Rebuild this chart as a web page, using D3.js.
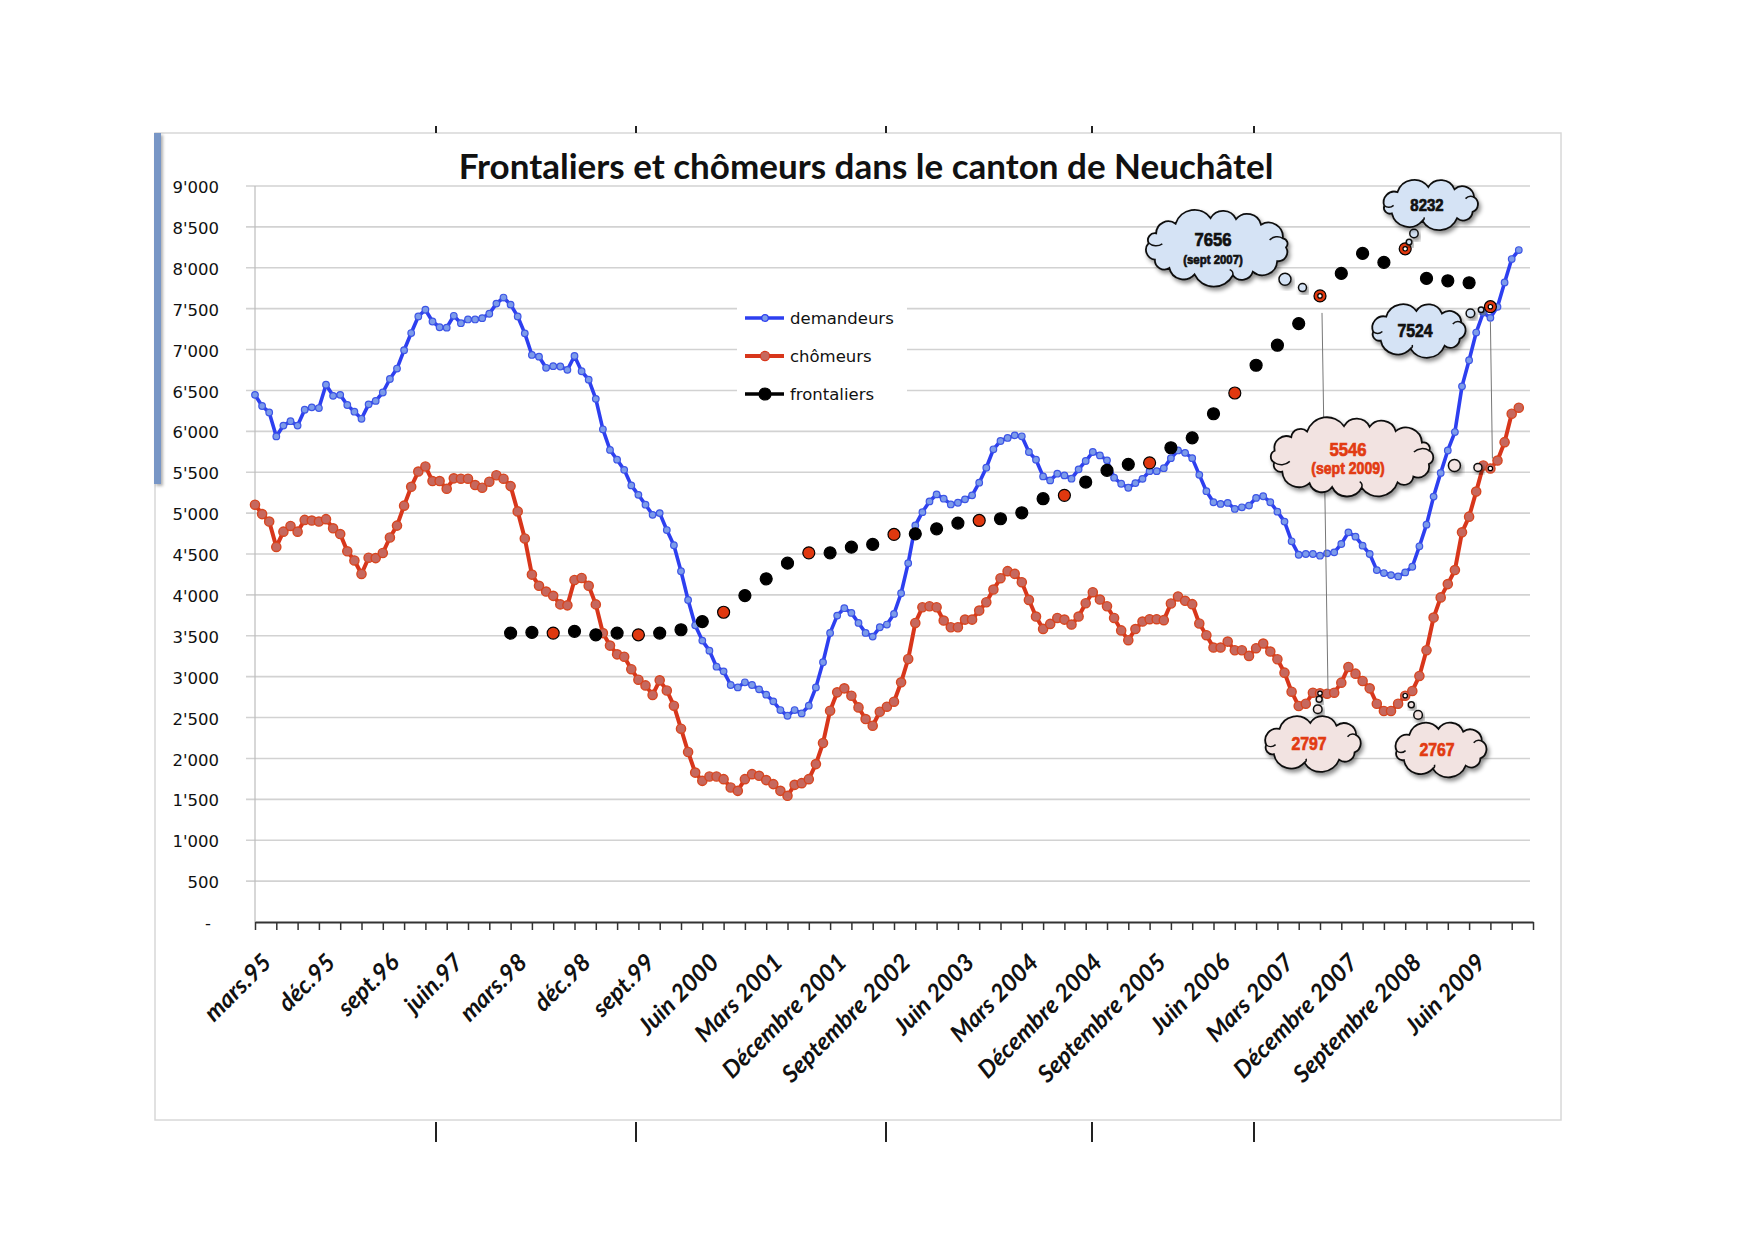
<!DOCTYPE html>
<html>
<head>
<meta charset="utf-8">
<script src="https://cdnjs.cloudflare.com/ajax/libs/d3/7.8.5/d3.min.js"></script>
<style>
  body { margin: 0; background: #fff; }
  svg { display: block; }
</style>
</head>
<body>
<script>
// monthly series, from mars 1995 (index 0) to janvier 2010 (index 178)
var demandeurs = [
  6446, 6310, 6231, 5938, 6070, 6124, 6070, 6264, 6293, 6285,
  6570, 6434, 6446, 6322, 6240, 6153, 6330, 6372, 6475, 6640,
  6768, 6992, 7202, 7405, 7487, 7343, 7273, 7268, 7413, 7322,
  7368, 7368, 7384, 7438, 7562, 7636, 7549, 7405, 7198, 6934,
  6913, 6777, 6797, 6793, 6752, 6921, 6735, 6632, 6397, 6025,
  5773, 5653, 5529, 5339, 5223, 5103, 4979, 5000, 4793, 4607,
  4289, 3938, 3628, 3441, 3318, 3122, 3065, 2898, 2869, 2931,
  2898, 2845, 2780, 2698, 2592, 2522, 2592, 2551, 2645, 2869,
  3176, 3535, 3747, 3837, 3780, 3657, 3535, 3490, 3604, 3637,
  3767, 4020, 4388, 4849, 5012, 5143, 5229, 5176, 5106, 5127,
  5168, 5217, 5372, 5555, 5780, 5882, 5919, 5951, 5939, 5747,
  5653, 5449, 5400, 5482, 5461, 5421, 5535, 5637, 5747, 5706,
  5645, 5433, 5359, 5310, 5367, 5419, 5513, 5513, 5549, 5672,
  5766, 5737, 5672, 5468, 5268, 5133, 5112, 5125, 5051, 5071,
  5092, 5186, 5206, 5133, 5018, 4896, 4655, 4491, 4500, 4500,
  4479, 4508, 4520, 4622, 4765, 4712, 4602, 4500, 4303, 4267,
  4242, 4226, 4275, 4344, 4594, 4859, 5202, 5492, 5766, 5991,
  6550, 6869, 7208, 7453, 7388, 7522, 7821, 8107, 8217
];

var chomeurs = [
  5103, 4988, 4897, 4587, 4773, 4843, 4773, 4917, 4909, 4897,
  4926, 4814, 4744, 4533, 4421, 4256, 4455, 4450, 4512, 4702,
  4847, 5091, 5322, 5508, 5570, 5392, 5392, 5297, 5425, 5421,
  5421, 5343, 5310, 5384, 5463, 5421, 5330, 5021, 4690, 4248,
  4111, 4041, 3988, 3884, 3872, 4182, 4207, 4111, 3884, 3533,
  3380, 3273, 3244, 3091, 2963, 2893, 2777, 2955, 2831, 2645,
  2364, 2079, 1827, 1726, 1779, 1779, 1747, 1645, 1604, 1747,
  1808, 1788, 1735, 1686, 1604, 1543, 1677, 1698, 1747, 1931,
  2188, 2584, 2808, 2857, 2767, 2624, 2482, 2400, 2571, 2633,
  2694, 2931, 3216, 3657, 3849, 3861, 3849, 3686, 3604, 3604,
  3698, 3698, 3808, 3910, 4065, 4204, 4290, 4257, 4155, 3939,
  3735, 3584, 3645, 3718, 3698, 3637, 3735, 3898, 4033, 3943,
  3861, 3718, 3566, 3446, 3582, 3674, 3703, 3703, 3691, 3895,
  3981, 3928, 3887, 3650, 3507, 3356, 3356, 3429, 3323, 3323,
  3254, 3348, 3405, 3307, 3213, 3049, 2816, 2641, 2669, 2804,
  2797, 2792, 2804, 2927, 3119, 3037, 2947, 2857, 2669, 2580,
  2580, 2669, 2767, 2825, 3009, 3323, 3723, 3969, 4132, 4304,
  4765, 4957, 5263, 5582, 5546, 5643, 5868, 6215, 6289
];

// quarterly, from mars 1998 (month index 36), every 3 months
var frontaliersStart = 36;
var frontaliers = [
  3533, 3541, 3533, 3554, 3512, 3533, 3512, 3533, 3574, 3674,
  3788, 3992, 4196, 4388, 4514, 4514, 4584, 4617, 4739, 4747,
  4808, 4878, 4910, 4931, 5004, 5176, 5217, 5380, 5523, 5596,
  5615, 5799, 5921, 6215, 6469, 6808, 7053, 7318, 7656, 7931,
  8176, 8066, 8232, 7870, 7841, 7817, 7524
];

var tickLabels = ["mars.95", "déc.95", "sept.96", "juin.97", "mars.98", "déc.98",
  "sept.99", "Juin 2000", "Mars 2001", "Décembre 2001", "Septembre 2002",
  "Juin 2003", "Mars 2004", "Décembre 2004", "Septembre 2005", "Juin 2006",
  "Mars 2007", "Décembre 2007", "Septembre 2008", "Juin 2009"];

var yTicks = d3.range(0, 9001, 500);
var seriesNames = ["demandeurs", "chômeurs", "frontaliers"];

var W = 1755, H = 1240;
var svg = d3.select('body').append('svg')
            .attr('width', W)
            .attr('height', H);

var defs = svg.append('defs');
var sh = defs.append('filter').attr('id', 'shadow')
  .attr('x', '-20%').attr('y', '-20%').attr('width', '150%').attr('height', '160%');
sh.append('feDropShadow').attr('dx', 2).attr('dy', 3).attr('stdDeviation', 2.2)
  .attr('flood-color', '#000').attr('flood-opacity', 0.45);
var sh2 = defs.append('filter').attr('id', 'barshadow')
  .attr('x', '-100%').attr('y', '-5%').attr('width', '300%').attr('height', '110%');
sh2.append('feDropShadow').attr('dx', 2).attr('dy', 2).attr('stdDeviation', 1.5)
  .attr('flood-color', '#000').attr('flood-opacity', 0.3);

// frame of the chart
svg.append('rect')
   .attr('x', 155).attr('y', 133).attr('width', 1406).attr('height', 987)
   .attr('fill', '#fff').attr('stroke', '#d8d8d8').attr('stroke-width', 1.5);

// little marks above / below the frame (page guides)
[436, 636, 886, 1092, 1254].forEach(function (gx) {
  svg.append('line').attr('x1', gx).attr('x2', gx).attr('y1', 126).attr('y2', 133)
     .attr('stroke', '#222').attr('stroke-width', 2);
  svg.append('line').attr('x1', gx).attr('x2', gx).attr('y1', 1122).attr('y2', 1142)
     .attr('stroke', '#222').attr('stroke-width', 2);
});

// blue bar on the left edge
svg.append('rect')
   .attr('x', 154).attr('y', 133).attr('width', 7).attr('height', 351)
   .attr('fill', '#7896c6').attr('filter', 'url(#barshadow)');

var x = d3.scaleLinear().domain([0, 180]).range([255, 1533]);
var y = d3.scaleLinear().domain([0, 9000]).range([922, 186]);

// gridlines
svg.append('g').selectAll('line')
   .data(yTicks.filter(function (d) { return d > 0; }))
   .enter().append('line')
   .attr('x1', 246).attr('x2', 1530)
   .attr('y1', function (d) { return y(d); })
   .attr('y2', function (d) { return y(d); })
   .attr('stroke', '#d2d2d2').attr('stroke-width', 1.6);

// y axis line
svg.append('line').attr('x1', x(0)).attr('x2', x(0)).attr('y1', y(9000)).attr('y2', y(0))
   .attr('stroke', '#bdbdbd').attr('stroke-width', 1.2);

var loc = d3.formatLocale({ decimal: '.', thousands: "'", grouping: [3], currency: ['', ''] });
var fmt = loc.format(',');

var yAxis = svg.append('g')
  .attr('transform', 'translate(219,0)')
  .call(d3.axisLeft(y).tickValues(yTicks).tickSize(0).tickPadding(0)
    .tickFormat(function (d) { return d === 0 ? '-' : fmt(d); }));
yAxis.select('.domain').remove();
yAxis.selectAll('text')
  .attr('dy', '0.4em')
  .style('font-family', 'DejaVu Sans, sans-serif')
  .style('font-size', '16.5px')
  .attr('fill', '#111');
yAxis.selectAll('text').filter(function (d) { return d === 0; }).attr('dx', -8);

// x axis
var xAxis = svg.append('g')
  .attr('transform', 'translate(0,' + y(0) + ')')
  .call(d3.axisBottom(x).tickValues(d3.range(0, 181, 3)).tickSize(8).tickSizeOuter(0).tickFormat(''));
xAxis.select('.domain').attr('stroke', '#333').attr('stroke-width', 2.2);
xAxis.selectAll('.tick line').attr('stroke', '#333').attr('stroke-width', 1.5);

svg.append('g').selectAll('text')
   .data(tickLabels)
   .enter().append('text')
   .attr('transform', function (d, k) {
     return 'translate(' + (x(k * 9) + 12) + ',958) rotate(-45)';
   })
   .attr('text-anchor', 'end')
   .attr('dy', '0.35em')
   .style('font-family', 'Lato, sans-serif')
   .style('font-weight', 'bold')
   .style('font-style', 'italic')
   .style('font-size', '24px')
   .attr('fill', '#111')
   .text(function (d) { return d; });

// title
svg.append('text')
   .attr('x', 866).attr('y', 179)
   .attr('text-anchor', 'middle')
   .style('font-family', 'Lato, sans-serif')
   .style('font-weight', 'bold')
   .style('font-size', '35px')
   .attr('fill', '#111')
   .text('Frontaliers et chômeurs dans le canton de Neuchâtel');

var line = d3.line()
  .x(function (d, i) { return x(i); })
  .y(function (d) { return y(d); });

// demandeurs
svg.append('path').datum(demandeurs)
   .attr('d', line).attr('fill', 'none')
   .attr('stroke', '#2d3ff0').attr('stroke-width', 3.6).attr('stroke-linejoin', 'round');
svg.append('g').selectAll('circle').data(demandeurs).enter().append('circle')
   .attr('cx', function (d, i) { return x(i); })
   .attr('cy', function (d) { return y(d); })
   .attr('r', 3.3)
   .attr('fill', '#7c9bea').attr('stroke', '#3d55e6').attr('stroke-width', 1.2);

// chomeurs
svg.append('path').datum(chomeurs)
   .attr('d', line).attr('fill', 'none')
   .attr('stroke', '#d8361b').attr('stroke-width', 4).attr('stroke-linejoin', 'round');
svg.append('g').selectAll('circle').data(chomeurs).enter().append('circle')
   .attr('cx', function (d, i) { return x(i); })
   .attr('cy', function (d) { return y(d); })
   .attr('r', 4.6)
   .attr('fill', '#c6685e').attr('stroke', '#d8451f').attr('stroke-width', 1.4);

// frontaliers, september dots in red
svg.append('g').selectAll('circle').data(frontaliers).enter().append('circle')
   .attr('cx', function (d, k) { return x(frontaliersStart + k * 3); })
   .attr('cy', function (d) { return y(d); })
   .attr('r', 6)
   .attr('fill', function (d, k) { return ((frontaliersStart + k * 3) % 12 === 6) ? '#e0380f' : '#000'; })
   .attr('stroke', '#000').attr('stroke-width', 1.2);

// legend
var lg = svg.append('g');
lg.append('rect').attr('x', 737).attr('y', 300).attr('width', 170).attr('height', 108).attr('fill', '#fff');
var legendStyle = [
  { stroke: '#2d3ff0', fill: '#7c9bea', r: 3.3, w: 3.6 },
  { stroke: '#d8361b', fill: '#c6685e', r: 4.6, w: 4 },
  { stroke: '#000', fill: '#000', r: 6, w: 3.6 }
];
seriesNames.forEach(function (name, k) {
  var ly = 318 + k * 38;
  var st = legendStyle[k];
  lg.append('line').attr('x1', 745).attr('x2', 784).attr('y1', ly).attr('y2', ly)
    .attr('stroke', st.stroke).attr('stroke-width', st.w);
  lg.append('circle').attr('cx', 765).attr('cy', ly).attr('r', st.r)
    .attr('fill', st.fill).attr('stroke', st.stroke).attr('stroke-width', 1.2);
  lg.append('text').attr('x', 790).attr('y', ly).attr('dy', '0.35em')
    .style('font-family', 'DejaVu Sans, sans-serif').style('font-size', '16.5px')
    .attr('fill', '#111').text(name);
});

// thin guide lines (sept 2007, sept 2009)
svg.append('line')
   .attr('x1', x(150) + 2).attr('x2', x(150) + 8)
   .attr('y1', y(frontaliers[(150 - frontaliersStart) / 3]) + 17).attr('y2', y(chomeurs[150]) - 3)
   .attr('stroke', '#777').attr('stroke-width', 1);
svg.append('line')
   .attr('x1', x(174)).attr('x2', x(174) + 2)
   .attr('y1', y(frontaliers[(174 - frontaliersStart) / 3]) + 15).attr('y2', y(chomeurs[174]) - 10)
   .attr('stroke', '#777').attr('stroke-width', 1);

// thought clouds
function cloudPath(cx, cy, rx, ry) {
  var per = 2 * Math.PI * Math.sqrt((rx * rx + ry * ry) / 2);
  var n = Math.max(9, Math.round(per / 24)), pts = [];
  for (var k = 0; k < n; k++) {
    var a = (k + 0.17 * Math.sin(k * 2.3 + 1)) / n * 2 * Math.PI - Math.PI * 0.55;
    pts.push([cx + rx * Math.cos(a), cy + ry * Math.sin(a)]);
  }
  var p = 'M' + pts[0][0] + ',' + pts[0][1];
  for (var j = 0; j < n; j++) {
    var q = pts[(j + 1) % n];
    var c = Math.hypot(q[0] - pts[j][0], q[1] - pts[j][1]);
    var r = c * 0.56;
    p += 'A' + r + ',' + r + ' 0 0 1 ' + q[0] + ',' + q[1];
  }
  return { d: p + 'Z', pts: pts, n: n };
}

var clouds = [
  { series: 'f', idx: 150, cx: 1217, cy: 247, w: 154, h: 74, lines: ['7656', '(sept 2007)'],
    fill: '#d5e3f5', color: '#111', size: 19, bub: [[0.17, 4], [0.34, 6]] },
  { series: 'f', idx: 162, cx: 1431, cy: 204, w: 110, h: 50, lines: ['8232'],
    fill: '#d5e3f5', color: '#111', size: 17, bub: [[0.15, 2.8], [0.34, 4.2]] },
  { series: 'f', idx: 174, cx: 1419, cy: 330, w: 108, h: 54, lines: ['7524'],
    fill: '#d5e3f5', color: '#111', size: 18, bub: [[0.13, 2.8], [0.28, 4.3]] },
  { series: 'c', idx: 174, cx: 1352, cy: 457, w: 174, h: 78, lines: ['5546', '(sept 2009)'],
    fill: '#f2e3e1', color: '#e23b12', size: 19, bub: [[0.09, 4], [0.26, 6]] },
  { series: 'c', idx: 150, cx: 1313, cy: 743, w: 110, h: 56, lines: ['2797'],
    fill: '#f2e3e1', color: '#e23b12', size: 18, bub: [[0.12, 3], [0.32, 4.3]] },
  { series: 'c', idx: 162, cx: 1441, cy: 749, w: 105, h: 56, lines: ['2767'],
    fill: '#f2e3e1', color: '#e23b12', size: 18, bub: [[0.17, 3], [0.36, 4.3]] }
];

var cg = svg.append('g');
clouds.forEach(function (cl) {
  var v = cl.series === 'f' ? frontaliers[(cl.idx - frontaliersStart) / 3] : chomeurs[cl.idx];
  var ax = x(cl.idx), ay = y(v);
  var g = cg.append('g');
  // tiny mark on the point
  g.append('circle').attr('cx', ax).attr('cy', ay).attr('r', 2.2)
   .attr('fill', '#fff').attr('stroke', '#000').attr('stroke-width', 1.2);
  cl.bub.forEach(function (b) {
    g.append('circle')
     .attr('cx', ax + (cl.cx - ax) * b[0]).attr('cy', ay + (cl.cy - ay) * b[0])
     .attr('r', b[1]).attr('fill', cl.fill).attr('stroke', '#111').attr('stroke-width', 1.5)
     .attr('filter', 'url(#shadow)');
  });
  var cp = cloudPath(cl.cx, cl.cy, cl.w / 2 - 8, cl.h / 2 - 8);
  g.append('path').attr('d', cp.d).attr('fill', cl.fill)
   .attr('stroke', '#111').attr('stroke-width', 1.8).attr('filter', 'url(#shadow)');
  // inner curls
  [Math.round(cp.n * 0.22), Math.round(cp.n * 0.5), Math.round(cp.n * 0.78)].forEach(function (k) {
    var p = cp.pts[k];
    var qx = p[0] + (cl.cx - p[0]) * 0.2, qy = p[1] + (cl.cy - p[1]) * 0.2;
    var rr = Math.hypot(qx - p[0], qy - p[1]) * 0.8;
    g.append('path').attr('d', 'M' + p[0] + ',' + p[1] + 'A' + rr + ',' + rr + ' 0 0 0 ' + qx + ',' + qy)
     .attr('fill', 'none').attr('stroke', '#111').attr('stroke-width', 1.5);
  });
  var t = g.append('text').attr('text-anchor', 'middle')
    .attr('transform', 'translate(' + (cl.cx - 4) + ',' + cl.cy + ') scale(0.88,1)')
    .style('font-family', "'Liberation Sans', Arial, sans-serif")
    .style('font-weight', 'bold')
    .attr('fill', cl.color).attr('stroke', cl.color).attr('stroke-width', 0.7);
  if (cl.lines.length === 2) {
    t.append('tspan').attr('x', 0).attr('y', -1).style('font-size', cl.size + 'px').text(cl.lines[0]);
    t.append('tspan').attr('x', 0).attr('y', 17)
     .style('font-size', cl.series === 'c' ? '16px' : '13px').text(cl.lines[1]);
  } else {
    t.append('tspan').attr('x', 0).attr('y', 7).style('font-size', cl.size + 'px').text(cl.lines[0]);
  }
});
</script>
</body>
</html>
